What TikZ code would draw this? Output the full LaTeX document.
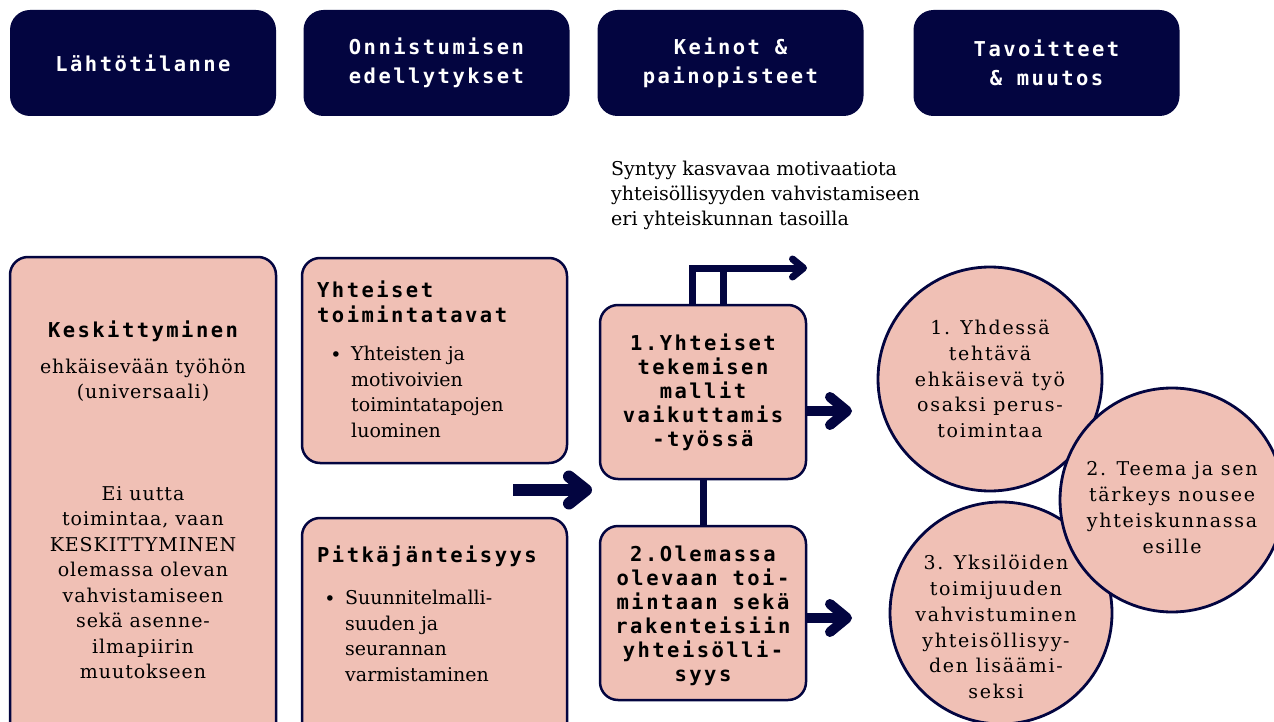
\documentclass[tikz,border=0pt]{standalone}
\usepackage{fontspec}
\setmainfont{DejaVu Serif}
\newfontfamily\monof{DejaVu Sans Mono}[LetterSpace=12]
\newfontfamily\serifsp{DejaVu Serif}[LetterSpace=5]
\newfontfamily\serifcc{DejaVu Serif}[LetterSpace=9]
\usetikzlibrary{arrows.meta}
\definecolor{navy}{RGB}{3,5,64}
\definecolor{pinkf}{RGB}{240,192,181}
\begin{document}
\begin{tikzpicture}[x=1pt,y=-1pt,
  hdr/.style={fill=navy, rounded corners=20pt, minimum width=266pt, minimum height=106pt,
    text=white, align=center, inner sep=0pt, font=\monof\bfseries\fontsize{20.5}{29}\selectfont},
  pbox/.style={draw=navy, line width=2.5pt, fill=pinkf, rounded corners=18pt, inner sep=0pt},
  pcirc/.style={draw=navy, line width=2.8pt, fill=pinkf, circle, inner sep=0pt},
  mtitle/.style={font=\monof\bfseries\fontsize{20.5}{24}\selectfont, align=center, inner sep=0pt},
  mtitlel/.style={font=\monof\bfseries\fontsize{20.5}{25}\selectfont, align=left, inner sep=0pt, anchor=west},
  sertext/.style={font=\serifsp\fontsize{19}{25.5}\selectfont, align=center, inner sep=0pt},
  sertextl/.style={font=\fontsize{19}{25.5}\selectfont, align=left, inner sep=0pt, anchor=north west},
  bulletn/.style={font=\fontsize{19}{25}\selectfont, inner sep=0pt},
  circtext/.style={font=\serifcc\fontsize{19}{25.8}\selectfont, align=center, inner sep=0pt},
  bigarrow/.style={draw=navy, line width=10pt, -{Straight Barb[length=17pt, width=28pt, round]}},
  midarrow/.style={draw=navy, line width=12pt, -{Straight Barb[length=17pt, width=27pt, round]}},
  toparrow/.style={draw=navy, line width=7pt, line join=miter, -{Straight Barb[length=11pt, width=18pt, round]}},
  conn/.style={draw=navy, line width=7pt}
]
\useasboundingbox (0,0) rectangle (1274,722);
\clip (0,0) rectangle (1274,722);

% headers
\node[hdr] (h1) at (143,63) {Lähtötilanne};
\node[hdr] (h2) at (436.5,63) {Onnistumisen\\edellytykset};
\node[hdr] (h3) at (730.5,63) {Keinot \&\\painopisteet};
\node[hdr] (h4) at (1046.5,63) {Tavoitteet\\\& muutos};

% left column
\node[pbox, minimum width=266pt, minimum height=488pt] (lbox) at (143,501) {};
\node[mtitle] (lt1) at (143,331) {Keskittyminen};
\node[sertext] (lt2) at (143,380) {ehkäisevään työhön\\(universaali)};
\node[sertext] (lt3) at (143,582.5) {Ei uutta\\toimintaa, vaan\\KESKITTYMINEN\\olemassa olevan\\vahvistamiseen\\sekä asenne-\\ilmapiirin\\muutokseen};

% middle column
\node[pbox, minimum width=265pt, minimum height=205pt] (mtop) at (434.5,360.5) {};
\node[mtitlel] (mt1) at (317,301.5) {Yhteiset\\toimintatavat};
\node[bulletn] (mb1) at (336,357) {•};
\node[sertextl] (mt2) at (351,346) {Yhteisten ja\\motivoivien\\toimintatapojen\\luominen};

\node[pbox, minimum width=265pt, minimum height=228pt] (mbot) at (434.5,632) {};
\node[mtitlel] (mt3) at (317,556) {Pitkäjänteisyys};
\node[bulletn] (mb2) at (330,601) {•};
\node[sertextl] (mt4) at (345,590) {Suunnitelmalli-\\suuden ja\\seurannan\\varmistaminen};

% arrow from middle column
\coordinate (a0) at (513,490);
\coordinate (a1) at (592,490);
\draw[midarrow] (a0) -- (a1);

% means column
\node[pbox, minimum width=206pt, minimum height=174pt] (b1) at (703,392) {};
\node[mtitle] (b1t) at (703,392.5) {1.Yhteiset\\tekemisen\\mallit\\vaikuttamis\\-työssä};
\node[pbox, minimum width=206pt, minimum height=174pt] (b2) at (703,613) {};
\node[mtitle] (b2t) at (703,616) {2.Olemassa\\olevaan toi-\\mintaan sekä\\rakenteisiin\\yhteisölli-\\syys};

\draw[conn] (b1.south) -- (b2.north);

% top arrow
\coordinate (c1) at (692,268);
\coordinate (c2) at (723,268);
\coordinate (tp) at (807,268);
\draw[toparrow] (b1.north -| c1) -- (c1) -- (tp);
\draw[conn] (b1.north -| c2) -- ([yshift=-3.5pt]c2);

\node[font=\fontsize{19}{25}\selectfont, align=left, inner sep=0pt, anchor=west] (topt) at (611,195)
  {Syntyy kasvavaa motivaatiota\\yhteisöllisyyden vahvistamiseen\\eri yhteiskunnan tasoilla};

% arrows to goals
\coordinate (e1) at (852,411);
\coordinate (e2) at (852,618);
\draw[bigarrow] (b1.east |- e1) -- (e1);
\draw[bigarrow] (b2.east |- e2) -- (e2);

% circles
\node[pcirc, minimum size=224pt] (g1) at (990,379) {};
\node[pcirc, minimum size=222pt] (g3) at (1001,613) {};
\node[pcirc, minimum size=224pt] (g2) at (1172,500) {};
\node[circtext] (g1t) at (990,379) {1. Yhdessä\\tehtävä\\ehkäisevä työ\\osaksi perus-\\toimintaa};
\node[circtext] (g2t) at (1172,507.5) {2. Teema ja sen\\tärkeys nousee\\yhteiskunnassa\\esille};
\node[circtext] (g3t) at (996,627) {3. Yksilöiden\\toimijuuden\\vahvistuminen\\yhteisöllisyy-\\den lisäämi-\\seksi};
\end{tikzpicture}
\end{document}
